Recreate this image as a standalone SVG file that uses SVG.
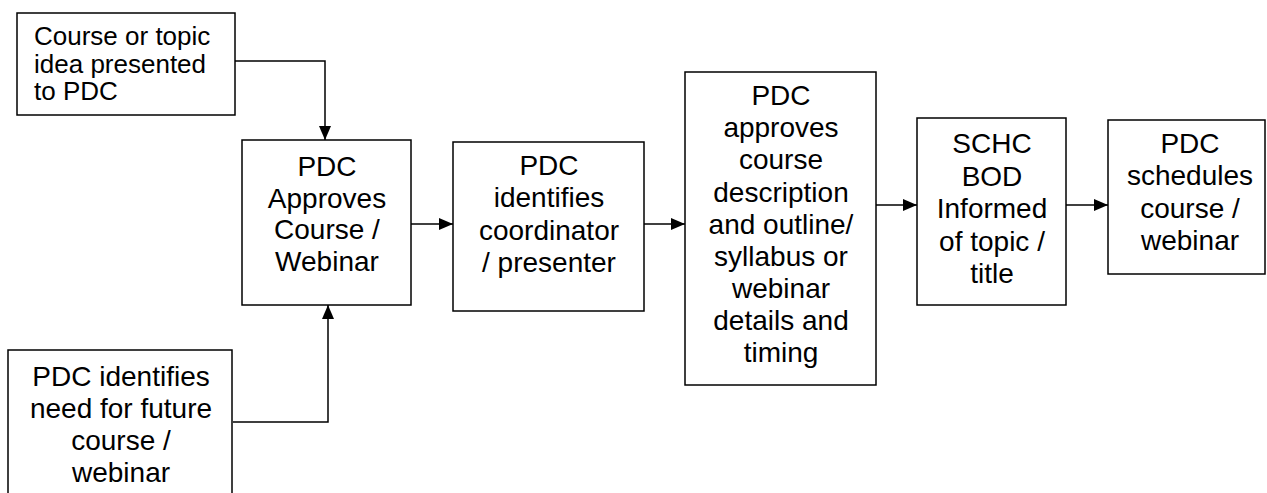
<svg xmlns="http://www.w3.org/2000/svg" width="1267" height="493" viewBox="0 0 1267 493">
<defs>
<marker id="arr" markerUnits="userSpaceOnUse" markerWidth="14" markerHeight="12" refX="14" refY="6" orient="auto">
<path d="M0,0 L14,6 L0,12 z" fill="#000"/>
</marker>
<style>
.box{fill:#fff;stroke:#000;stroke-width:1.5}
.t{font-family:"Liberation Sans",Arial,sans-serif;font-size:28px;fill:#000;text-anchor:middle}
.t1{font-family:"Liberation Sans",Arial,sans-serif;font-size:26px;fill:#000}
.c{fill:none;stroke:#000;stroke-width:1.5}
</style>
</defs>
<rect width="1267" height="493" fill="#fff"/>
<g id="connectors">
<path class="c" d="M235,61 H325 V140" marker-end="url(#arr)"/>
<path class="c" d="M233,422 H328 V305" marker-end="url(#arr)"/>
<path class="c" d="M411,224 H453" marker-end="url(#arr)"/>
<path class="c" d="M644,224 H685" marker-end="url(#arr)"/>
<path class="c" d="M876,205 H917" marker-end="url(#arr)"/>
<path class="c" d="M1066,205 H1108" marker-end="url(#arr)"/>
</g>
<g id="n1">
<rect class="box" x="17" y="13" width="218" height="102"/>
<text class="t1" x="34" y="45">Course or topic</text>
<text class="t1" x="34" y="73">idea presented</text>
<text class="t1" x="34" y="100">to PDC</text>
</g>
<g id="n2">
<rect class="box" x="242" y="140" width="169" height="165"/>
<text class="t" x="327" y="176">PDC</text>
<text class="t" x="327" y="207.5">Approves</text>
<text class="t" x="327" y="239">Course /</text>
<text class="t" x="327" y="270.5">Webinar</text>
</g>
<g id="n7">
<rect class="box" x="8" y="350" width="224" height="160"/>
<text class="t" x="121" y="386">PDC identifies</text>
<text class="t" x="121" y="418">need for future</text>
<text class="t" x="121" y="450">course /</text>
<text class="t" x="121" y="482">webinar</text>
</g>
<g id="n3">
<rect class="box" x="453" y="142" width="191" height="169"/>
<text class="t" x="549" y="175">PDC</text>
<text class="t" x="549" y="207">identifies</text>
<text class="t" x="549" y="240">coordinator</text>
<text class="t" x="549" y="272">/ presenter</text>
</g>
<g id="n4">
<rect class="box" x="685" y="72" width="191" height="313"/>
<text class="t" x="781" y="105">PDC</text>
<text class="t" x="781" y="137">approves</text>
<text class="t" x="781" y="169">course</text>
<text class="t" x="781" y="202">description</text>
<text class="t" x="781" y="234">and outline/</text>
<text class="t" x="781" y="266">syllabus or</text>
<text class="t" x="781" y="298">webinar</text>
<text class="t" x="781" y="330">details and</text>
<text class="t" x="781" y="362">timing</text>
</g>
<g id="n5">
<rect class="box" x="917" y="118" width="149" height="187"/>
<text class="t" x="992" y="153">SCHC</text>
<text class="t" x="992" y="185.5">BOD</text>
<text class="t" x="992" y="218">Informed</text>
<text class="t" x="992" y="250.5">of topic /</text>
<text class="t" x="992" y="283">title</text>
</g>
<g id="n6">
<rect class="box" x="1108" y="120" width="157" height="154"/>
<text class="t" x="1190" y="153">PDC</text>
<text class="t" x="1190" y="185">schedules</text>
<text class="t" x="1190" y="218">course /</text>
<text class="t" x="1190" y="250">webinar</text>
</g>
</svg>
